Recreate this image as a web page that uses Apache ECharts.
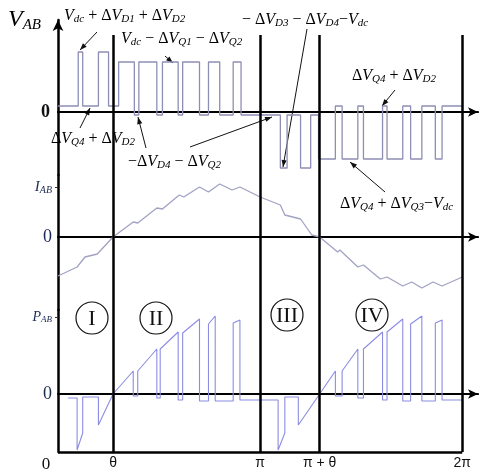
<!DOCTYPE html>
<html><head><meta charset="utf-8">
<script src="https://cdn.jsdelivr.net/npm/echarts@6/dist/echarts.min.js"></script>
<style>html,body{margin:0;padding:0;background:#fff}#c{width:479px;height:470px}</style>
</head><body><div id="c"></div>
<script>
// angle axis in degrees (0..360 = 0..2π)
const phaseMarks = [49, 180, 233, 360];
const phaseLabels = {0:'0', 49:'θ', 180:'π', 233:'π + θ', 360:'2π'};

// V_AB: step waveform, value holds from x until next x
const vX = [0,18,22,36,45,54,68,72,88,93,107,111,126,134,144,156,163,198,204,216,225,232,247,253,267,272,289,293,307,314,324,336,342,360];
const vY = [6,60,6,60,6,50,-3,50,-3,50,-3,50,-3,50,-3,50,-3,-56,-3,-56,-3,-47,6,-47,6,-47,6,-47,6,-47,6,-47,6,6];

// I_AB
const iX = [0,17,24,35,49,67,71,88,93,108,112,126,134,144,155,162,180,198,202,216,226,233,249,251,267,272,287,293,307,315,324,334,342,360];
const iY = [-39,-30,-20,-17,0,15,14,29,28,42,40,50,45,53,47,50,40,32,22,18,2,0,-15,-13,-30,-28,-42,-40,-49,-45,-51,-45,-49,-40];

// P_AB
const pX = [9,17,17,22,22,36,36,49,67,67,71,71,88,88,91,91,107,107,111,111,126,126,134,134,140,140,156,156,162,162,196,196,202,202,214,214,233,247,247,253,253,267,267,272,272,289,289,293,293,307,307,314,314,324,324,336,336,342,342,360];
const pY = [-4,-4,-56,-39,-3,-3,-31,0,23,-2,-2,23,45,-4,-4,45,62,-6,-6,61,75,-7,-7,70,78,-7,-7,71,74,-6,-6,-56,-39,-3,-3,-31,0,23,-2,-2,23,45,-4,-4,45,62,-6,-6,62,75,-7,-7,70,78,-7,-7,71,74,-6,-6];

const zip = (a,b)=>a.map((x,i)=>[x,b[i]]);
const AX = '#000';
const serif = 'Liberation Serif';

const gridsPx = [
  {top:20, height:155, min:-63, max:92, vTop:77},
  {top:175, height:135, min:-73, max:62},
  {top:310, height:142, min:-58, max:84}
];

function vLines(g){
  const top = g.vTop !== undefined ? g.vTop : g.max;
  return phaseMarks.map(x=>[{coord:[x, top]},{coord:[x, g.min]}]);
}

const rich = {
  m:{fontFamily:serif, fontStyle:'italic', fontSize:16, color:'#1a1a24'},
  u:{fontFamily:serif, fontSize:16, color:'#1a1a24'},
  s:{fontFamily:serif, fontStyle:'italic', fontSize:11, color:'#1a1a24', padding:[7,0,0,0]}
};

function arrow(x1,y1,x2,y2){
  const a=Math.atan2(y2-y1,x2-x1), h=7, w=2.6;
  return [
    {type:'line', shape:{x1,y1,x2,y2}, style:{stroke:'#111', lineWidth:1}},
    {type:'polygon', shape:{points:[[x2,y2],[x2-h*Math.cos(a)+w*Math.sin(a), y2-h*Math.sin(a)-w*Math.cos(a)],[x2-h*Math.cos(a)-w*Math.sin(a), y2-h*Math.sin(a)+w*Math.cos(a)]]}, style:{fill:'#111'}}
  ];
}
function label(x,y,t){
  return {type:'text', x, y, style:{text:t, rich, textVerticalAlign:'middle', textAlign:'left'}};
}
function roman(cx,cy,t){
  return [
    {type:'circle', shape:{cx,cy,r:16}, style:{fill:'none', stroke:'#111', lineWidth:1.2}},
    {type:'text', x:cx, y:cy+1, style:{text:t, font:'22px "Liberation Serif"', fill:'#111', textAlign:'center', textVerticalAlign:'middle'}}
  ];
}

const chart = echarts.init(document.getElementById('c'));
const xAxes = [], yAxes = [], grids = [];
gridsPx.forEach((g,i)=>{
  grids.push({left:58, width:420, top:g.top, height:g.height, containLabel:false, outerBoundsMode:'none'});
  xAxes.push({type:'value', gridIndex:i, min:0, max:374, position:'top',
    axisLine:{onZero:true, symbol:['none','arrow'], symbolSize:[7,10], lineStyle:{color:AX, width:2.2}},
    axisTick:{show:false}, axisLabel:{show:false}, splitLine:{show:false}});
});
xAxes.push({type:'value', gridIndex:2, min:0, max:374, position:'bottom',
  axisLine:{show:false}, axisTick:{show:false}, splitLine:{show:false},
  axisLabel:{customValues:[0,49,180,233,360], margin:4, fontFamily:'Liberation Sans', fontSize:14, color:'#111',
    formatter:v=> v===0 ? '{z|0}' : phaseLabels[v],
    rich:{z:{fontFamily:serif, fontSize:17, color:'#111', padding:[0,24,0,0]}}}});

yAxes.push({type:'value', gridIndex:0, min:-63, max:92,
  axisLine:{show:true, symbol:['none','arrow'], symbolSize:[8,11], lineStyle:{color:AX, width:2.5}},
  axisTick:{show:false}, splitLine:{show:false},
  axisLabel:{customValues:[0], margin:8, formatter:()=> '0', fontFamily:serif, fontSize:18, fontWeight:'bold', color:'#111'}});
yAxes.push({type:'value', gridIndex:1, min:-73, max:62,
  axisLine:{show:true, lineStyle:{color:AX, width:2.5}},
  axisTick:{show:true, customValues:[50], length:3, lineStyle:{color:'#333'}}, splitLine:{show:false},
  axisLabel:{customValues:[0,50], margin:6,
    formatter:v=> v===0 ? '{z|0}' : '{i|I}{s|AB}',
    rich:{z:{fontFamily:serif, fontSize:18, color:'#1b2a55'}, i:{fontFamily:serif, fontStyle:'italic', fontSize:15, color:'#1b2a55'}, s:{fontFamily:serif, fontStyle:'italic', fontSize:10, color:'#1b2a55', padding:[6,0,0,0]}}}});
yAxes.push({type:'value', gridIndex:2, min:-58, max:84,
  axisLine:{show:true, lineStyle:{color:AX, width:2.5}},
  axisTick:{show:true, customValues:[77], length:3, lineStyle:{color:'#333'}}, splitLine:{show:false},
  axisLabel:{customValues:[0,77], margin:6,
    formatter:v=> v===0 ? '{z|0}' : '{i|P}{s|AB}',
    rich:{z:{fontFamily:serif, fontSize:18, color:'#1b2a55'}, i:{fontFamily:serif, fontStyle:'italic', fontSize:14, color:'#1b2a55'}, s:{fontFamily:serif, fontStyle:'italic', fontSize:9, color:'#1b2a55', padding:[6,0,0,0]}}}});

const markStyle = {symbol:['none','none'], silent:true, label:{show:false}, lineStyle:{color:AX, width:2.5, type:'solid'}, animation:false};

const series = [
  {type:'line', xAxisIndex:0, yAxisIndex:0, data:zip(vX,vY), step:'end', symbol:'none', lineStyle:{color:'#8e8eb4', width:1.3}, z:3,
   markLine:Object.assign({data:vLines(gridsPx[0])}, markStyle)},
  {type:'line', xAxisIndex:1, yAxisIndex:1, data:zip(iX,iY), symbol:'none', lineStyle:{color:'#a2a2c4', width:1.3}, z:3,
   markLine:Object.assign({data:vLines(gridsPx[1])}, markStyle)},
  {type:'line', xAxisIndex:2, yAxisIndex:2, data:zip(pX,pY), symbol:'none', lineStyle:{color:'#8c8ce4', width:1.1}, z:3,
   markLine:Object.assign({data:vLines(gridsPx[2]).concat([[{coord:[0,-58]},{coord:[360,-58]}]])}, markStyle)}
];

const graphic = [
  {type:'text', x:8, y:20, style:{text:'{v|V}{a|AB}', textVerticalAlign:'middle', rich:{v:{fontFamily:serif, fontStyle:'italic', fontSize:24, color:'#1a1a2a'}, a:{fontFamily:serif, fontStyle:'italic', fontSize:15, color:'#1a1a2a', padding:[10,0,0,0]}}}},
  label(64,16,'{m|V}{s|dc}{u| + Δ}{m|V}{s|D1}{u| + Δ}{m|V}{s|D2}'),
  label(121,39,'{m|V}{s|dc}{u| − Δ}{m|V}{s|Q1}{u| − Δ}{m|V}{s|Q2}'),
  label(51,139,'{u|Δ}{m|V}{s|Q4}{u| + Δ}{m|V}{s|D2}'),
  label(128,162,'{u|−Δ}{m|V}{s|D4}{u| − Δ}{m|V}{s|Q2}'),
  label(242,20,'{u|− Δ}{m|V}{s|D3}{u| − Δ}{m|V}{s|D4}{u|−}{m|V}{s|dc}'),
  label(352,76,'{u|Δ}{m|V}{s|Q4}{u| + Δ}{m|V}{s|D2}'),
  label(340,204,'{u|Δ}{m|V}{s|Q4}{u| + Δ}{m|V}{s|Q3}{u|−}{m|V}{s|dc}')
]
.concat(arrow(97,32,80,50))
.concat(arrow(165,56,173,63))
.concat(arrow(80,128,90,108))
.concat(arrow(146,148,138,117))
.concat(arrow(190,147,272,117))
.concat(arrow(307,29,283,167))
.concat(arrow(395,90,382,106))
.concat(arrow(385,192,350,162))
.concat(roman(92,318,'I'))
.concat(roman(156,318,'II'))
.concat(roman(287,315,'III'))
.concat(roman(372,315,'IV'));

chart.setOption({animation:false, grid:grids, xAxis:xAxes, yAxis:yAxes, series, graphic});
</script></body></html>
